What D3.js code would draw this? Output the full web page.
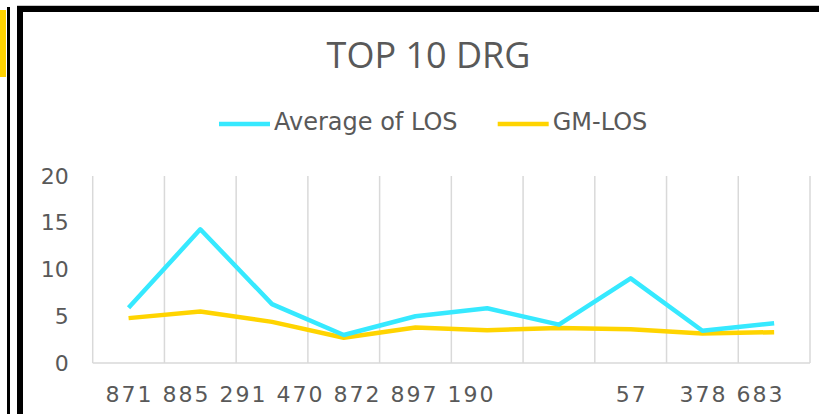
<!DOCTYPE html>
<html>
<head>
<meta charset="utf-8">
<script src="https://cdn.jsdelivr.net/npm/d3@7"></script>
<style>
  html, body { margin: 0; padding: 0; background: #fff; }
  svg { display: block; }
</style>
</head>
<body>
<div id="chart"></div>
<script>
// DRG codes on the x axis
const categories = ["871", "885", "291", "470", "872", "897", "190", "57", "378", "683"];
// series values
const avgLos = [5.9, 14.3, 6.3, 3.0, 5.0, 5.85, 4.1, 9.05, 3.45, 4.25];
const gmLos = [4.8, 5.5, 4.4, 2.7, 3.8, 3.5, 3.75, 3.6, 3.15, 3.3];
const seriesNames = ["Average of LOS", "GM-LOS"];
const yTicks = [0, 5, 10, 15, 20];
// the x labels are drawn as runs of text: how many codes go in each run
const labelRunSizes = [7, 1, 2];

const width = 819;
const height = 414;
const colors = ["#36E9FF", "#FFD400"];
const textColor = "#595959";
const gridColor = "#D9D9D9";
const axisFont = "'DejaVu Sans', Verdana, sans-serif";

const svg = d3.select("#chart")
    .append("svg")
    .attr("width", width)
    .attr("height", height)
    .attr("viewBox", [0, 0, width, height]);

// screenshot frame around the chart
svg.append("rect").attr("x", 0).attr("y", 10).attr("width", 6).attr("height", 67).attr("fill", "#FFD200");
svg.append("rect").attr("x", 7).attr("y", 7).attr("width", 3).attr("height", height).attr("fill", "#000");
svg.append("rect").attr("x", 17).attr("y", 5).attr("width", width).attr("height", 1).attr("fill", "#C8C8C8");
svg.append("rect").attr("x", 17).attr("y", 6).attr("width", width).attr("height", 6).attr("fill", "#000");
svg.append("rect").attr("x", 17).attr("y", 6).attr("width", 6).attr("height", height).attr("fill", "#000");

// Scales
const plot = { left: 92.7, right: 810, top: 176, bottom: 363 };

const x = d3.scaleBand()
    .domain(categories)
    .range([plot.left, plot.right])
    .padding(0);

const y = d3.scaleLinear()
    .domain([0, 20])
    .range([plot.bottom, plot.top]);

const cx = d => x(d) + x.bandwidth() / 2;

// Title
svg.append("text")
    .attr("x", 428.5)
    .attr("y", 68.3)
    .attr("text-anchor", "middle")
    .attr("font-family", "'Open Sans', 'Noto Sans', sans-serif")
    .attr("font-size", 36)
    .attr("fill", textColor)
    .text("TOP 10 DRG");

// Legend
const legendX = [219, 497.7];
const legend = svg.append("g");
seriesNames.forEach((name, i) => {
    const g = legend.append("g").attr("transform", `translate(${legendX[i]}, 124)`);
    g.append("line")
        .attr("x1", 0).attr("x2", 51)
        .attr("stroke", colors[i])
        .attr("stroke-width", 4.5);
    g.append("text")
        .attr("x", 55)
        .attr("y", 5.5)
        .attr("font-family", axisFont)
        .attr("font-size", 24)
        .attr("fill", textColor)
        .text(name);
});

// Vertical gridlines at category boundaries
const bounds = categories.map(c => x(c)).concat([x.range()[1]]);
svg.append("g")
    .selectAll("line")
    .data(bounds)
    .join("line")
    .attr("x1", d => d).attr("x2", d => d)
    .attr("y1", y(20)).attr("y2", y(0))
    .attr("stroke", gridColor)
    .attr("stroke-width", 1.5);

svg.append("line")
    .attr("x1", plot.left).attr("x2", plot.right)
    .attr("y1", y(0)).attr("y2", y(0))
    .attr("stroke", gridColor)
    .attr("stroke-width", 1.5);

// Y axis
const gy = svg.append("g")
    .attr("transform", `translate(${plot.left}, 0)`)
    .call(d3.axisLeft(y).tickValues(yTicks).tickSize(0).tickPadding(24));
gy.select(".domain").remove();
gy.selectAll("text")
    .attr("font-family", axisFont)
    .attr("font-size", 22)
    .attr("fill", textColor);

// X axis labels: each run starts with its first code centred under that category
const labelY = plot.bottom + 23;
const gx = svg.append("g");
let start = 0;
labelRunSizes.forEach(n => {
    const codes = categories.slice(start, start + n);
    start += n;
    const t = gx.append("text")
        .attr("y", labelY)
        .attr("dy", "0.71em")
        .attr("font-family", axisFont)
        .attr("font-size", 22)
        .attr("letter-spacing", 2)
        .attr("fill", textColor);
    const first = t.append("tspan").text(codes[0]);
    const w = first.node().getComputedTextLength() - 2;
    if (codes.length > 1) t.append("tspan").text(" " + codes.slice(1).join(" "));
    t.attr("x", cx(codes[0]) - w / 2);
});

// Lines
const line = d3.line()
    .x((d, i) => cx(categories[i]))
    .y(d => y(d));

[gmLos, avgLos].forEach((values, k) => {
    svg.append("path")
        .datum(values)
        .attr("fill", "none")
        .attr("stroke", colors[1 - k])
        .attr("stroke-width", 4.5)
        .attr("stroke-linejoin", "round")
        .attr("d", line);
});
</script>
</body>
</html>
